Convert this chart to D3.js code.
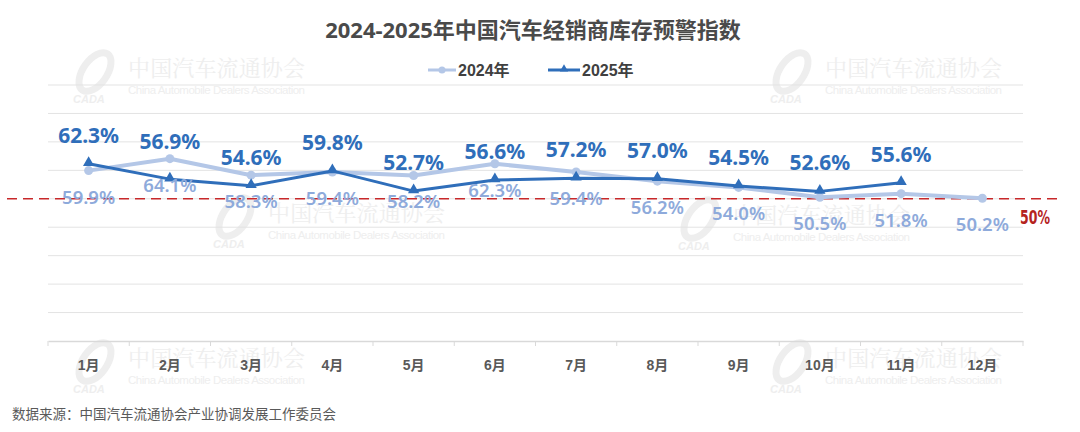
<!DOCTYPE html>
<html><head><meta charset="utf-8">
<script src="https://cdn.jsdelivr.net/npm/d3@7/dist/d3.min.js"></script>
<style>
html,body{margin:0;padding:0;background:#fff;}
svg{display:block;}
</style></head>
<body>
<svg id="c" width="1080" height="432"></svg>
<script>
const title = "2024-2025年中国汽车经销商库存预警指数";
const months = ["1月","2月","3月","4月","5月","6月","7月","8月","9月","10月","11月","12月"];
const seriesNames = ["2024年","2025年"];
const values2024 = [59.9, 64.1, 58.3, 59.4, 58.2, 62.3, 59.4, 56.2, 54.0, 50.5, 51.8, 50.2];
const values2025 = [62.3, 56.9, 54.6, 59.8, 52.7, 56.6, 57.2, 57.0, 54.5, 52.6, 55.6];
const yTicks = [0,10,20,30,40,50,60,70,80,90];
const warnLevel = 50;
const warnLabel = "50%";
const source = "数据来源：中国汽车流通协会产业协调发展工作委员会";
const wmCN = "中国汽车流通协会";
const wmEN = "China Automobile Dealers Association";

const svg = d3.select("#c");
const L = 48, R = 1023, T = 85, B = 341;
const x = d3.scaleBand().domain(months).range([L, R]);
const y = d3.scaleLinear().domain([0, 90]).range([B, T]);
const cx = m => x(m) + x.bandwidth()/2;

const C24 = "#b4c7e7", C24L = "#8eaadb", C25 = "#2f6eba", C25L = "#2f6eba";
const FONT = "'Noto Sans','Noto Sans CJK SC',sans-serif";
const FONTA = "'Liberation Sans','Noto Sans CJK SC',sans-serif";

// watermarks
function watermark(x0, y0) {
  const g = svg.append("g").attr("transform", `translate(${x0},${y0})`).attr("fill", "#eeeeee");
  g.append("ellipse").attr("cx", -33).attr("cy", 2).attr("rx", 12).attr("ry", 22)
    .attr("transform", "rotate(35,-33,2)").attr("fill", "none").attr("stroke", "#eeeeee").attr("stroke-width", 7);
  g.append("text").attr("x", -55).attr("y", 33).attr("font-family", FONTA).attr("font-weight", "bold")
    .attr("font-style", "italic").attr("font-size", 11).text("CADA");
  g.append("text").attr("x", 0).attr("y", 6).attr("font-family", "'Noto Serif CJK SC','Noto Sans CJK SC',serif")
    .attr("font-size", 22).attr("textLength", 177).text(wmCN);
  g.append("text").attr("x", 0).attr("y", 24).attr("font-family", FONTA)
    .attr("font-size", 11.5).attr("textLength", 177).text(wmEN);
}
[[128,70],[825,70],[268,215],[733,217],[128,360],[825,360]].forEach(p => watermark(p[0], p[1]));

// gridlines
svg.append("g").selectAll("line").data(yTicks.filter(t => t > 0)).join("line")
  .attr("x1", L).attr("x2", R).attr("y1", d => y(d)).attr("y2", d => y(d))
  .attr("stroke", "#e3e3e3").attr("stroke-width", 1);

// x axis
const xAxis = d3.axisBottom(x).tickSize(0).tickPadding(19);
const gx = svg.append("g").attr("transform", `translate(0,${B})`).call(xAxis);
gx.select(".domain").attr("stroke", "#d9d9d9").attr("stroke-width", 1.5);
gx.selectAll("text").attr("font-family", FONTA).attr("font-weight", "bold").attr("font-size", 14).attr("fill", "#595959");
svg.append("g").selectAll("line").data(months.concat(["end"])).join("line")
  .attr("x1", (d,i) => L + i*x.bandwidth()).attr("x2", (d,i) => L + i*x.bandwidth())
  .attr("y1", B).attr("y2", B + 5).attr("stroke", "#d9d9d9");

// warning line
svg.append("line").attr("x1", 7).attr("x2", 1058).attr("y1", y(warnLevel)).attr("y2", y(warnLevel))
  .attr("stroke", "#c8282a").attr("stroke-width", 1.5).attr("stroke-dasharray", "10,6");
svg.append("text").attr("x", 1020).attr("y", y(warnLevel) + 25)
  .attr("font-family", "'DejaVu Sans Condensed','Liberation Sans Narrow',sans-serif").attr("font-weight", "bold")
  .attr("font-size", 20).attr("textLength", 30).attr("lengthAdjust", "spacingAndGlyphs")
  .attr("fill", "#b5231e").text(warnLabel);

const line = d3.line().x(d => cx(d.m)).y(d => y(d.v));
const d24 = values2024.map((v,i) => ({m: months[i], v}));
const d25 = values2025.map((v,i) => ({m: months[i], v}));

// 2024 series
svg.append("path").datum(d24).attr("d", line).attr("fill", "none").attr("stroke", C24).attr("stroke-width", 4).attr("stroke-linejoin", "round");
svg.append("g").selectAll("circle").data(d24).join("circle").attr("cx", d => cx(d.m)).attr("cy", d => y(d.v)).attr("r", 4.5).attr("fill", C24);

// 2025 series
svg.append("path").datum(d25).attr("d", line).attr("fill", "none").attr("stroke", C25).attr("stroke-width", 3).attr("stroke-linejoin", "round");
const tri = d3.symbol().type(d3.symbolTriangle).size(55);
svg.append("g").selectAll("path").data(d25).join("path").attr("d", tri)
  .attr("transform", d => `translate(${cx(d.m)},${y(d.v) - 1})`).attr("fill", C25);

// labels 2024 (below)
svg.append("g").selectAll("text").data(d24).join("text")
  .attr("x", d => cx(d.m)).attr("y", d => y(d.v) + 33).attr("text-anchor", "middle")
  .attr("font-family", FONT).attr("font-weight", 600).attr("font-size", 18.5).attr("fill", C24L)
  .text(d => d.v.toFixed(1) + "%");
// labels 2025 (above, nudged when the 2024 line sits well above)
svg.append("g").selectAll("text").data(d25).join("text")
  .attr("x", d => cx(d.m)).attr("y", (d,i) => y(d.v) - 21 - (values2024[i] - d.v > 6 ? 9 : 0)).attr("text-anchor", "middle")
  .attr("font-family", FONT).attr("font-weight", "bold").attr("font-size", 21).attr("fill", C25L)
  .text(d => d.v.toFixed(1) + "%");

// title
svg.append("text").attr("x", 533).attr("y", 38).attr("text-anchor", "middle")
  .attr("font-family", FONT).attr("font-weight", "bold").attr("font-size", 22).attr("fill", "#4a4a4a").text(title);

// legend
const lg = svg.append("g");
lg.append("line").attr("x1", 428).attr("x2", 456).attr("y1", 70).attr("y2", 70).attr("stroke", C24).attr("stroke-width", 3);
lg.append("circle").attr("cx", 442).attr("cy", 70).attr("r", 3.5).attr("fill", C24);
lg.append("text").attr("x", 458).attr("y", 76).attr("font-family", FONTA).attr("font-weight", "bold").attr("font-size", 16).attr("fill", "#404040").text(seriesNames[0]);
lg.append("line").attr("x1", 548).attr("x2", 580).attr("y1", 70).attr("y2", 70).attr("stroke", C25).attr("stroke-width", 3);
lg.append("path").attr("d", d3.symbol().type(d3.symbolTriangle).size(30)).attr("transform", "translate(564,69)").attr("fill", C25);
lg.append("text").attr("x", 582).attr("y", 76).attr("font-family", FONTA).attr("font-weight", "bold").attr("font-size", 16).attr("fill", "#404040").text(seriesNames[1]);

// source
svg.append("text").attr("x", 12).attr("y", 419).attr("font-family", FONTA).attr("font-size", 13.5).attr("fill", "#595959").text(source);
</script>
</body></html>
